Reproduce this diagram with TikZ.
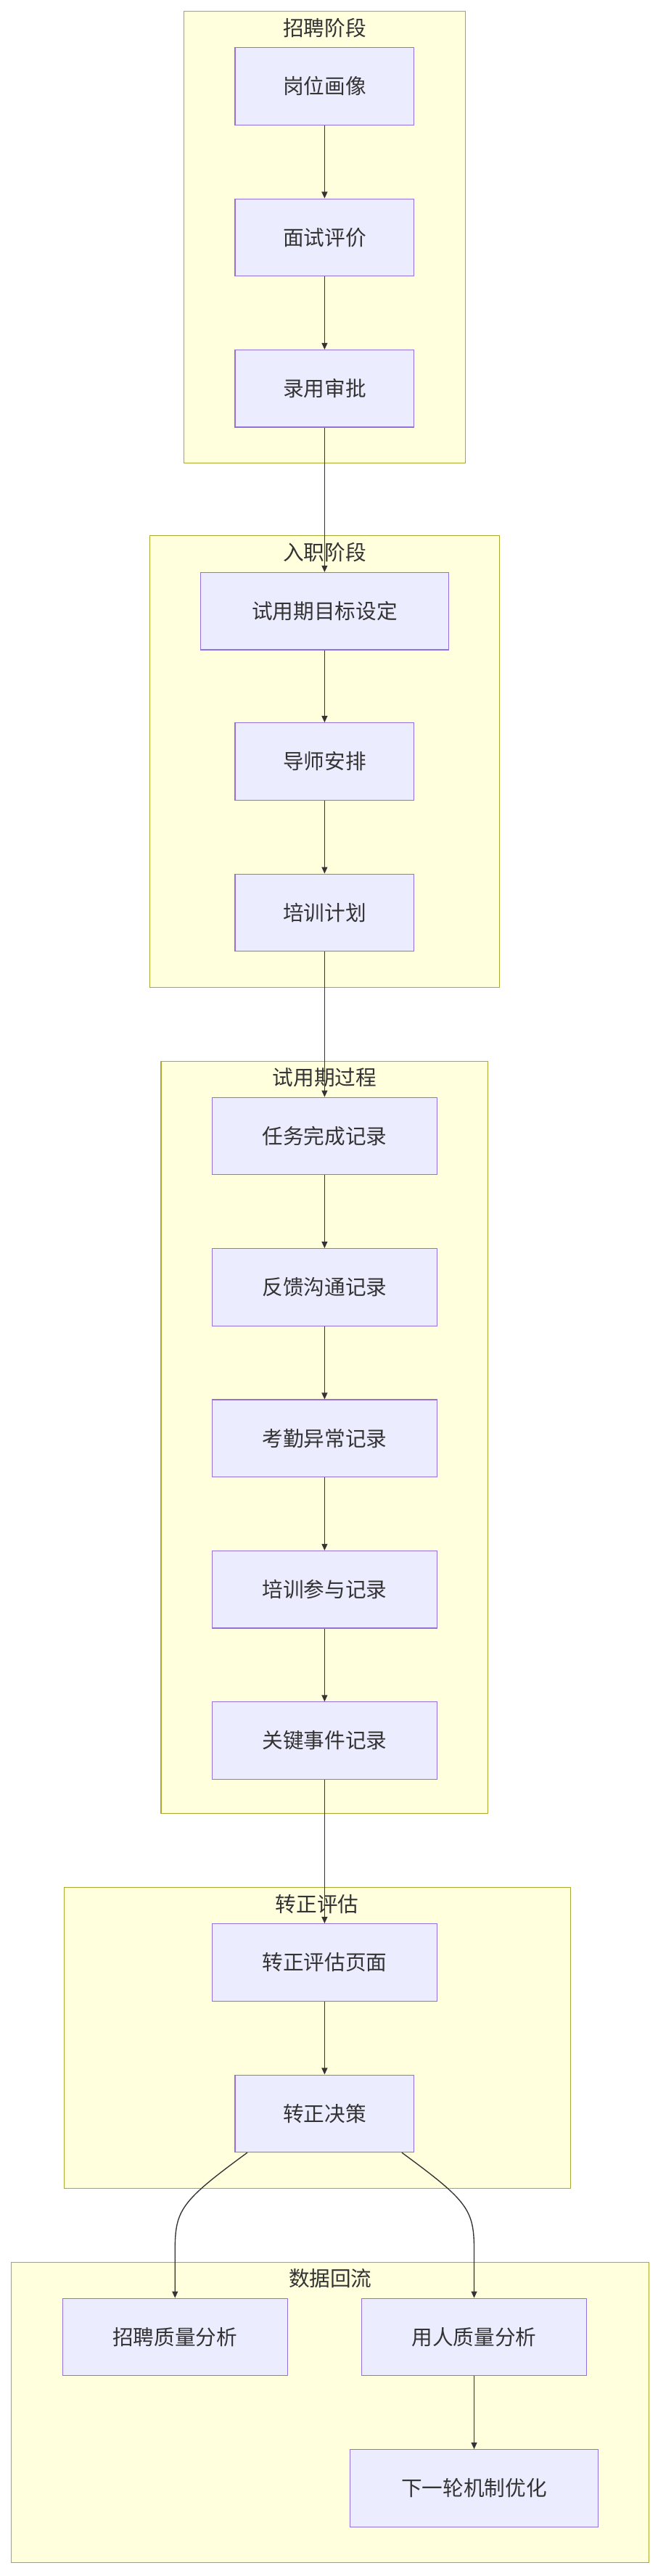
\documentclass[tikz,border=0pt]{standalone}
\usepackage{fontspec}
\setmainfont{Noto Sans CJK SC}
\usetikzlibrary{arrows.meta}
\definecolor{nodefill}{HTML}{ECECFF}
\definecolor{nodeline}{HTML}{9370DB}
\definecolor{grpfill}{HTML}{FFFFDE}
\definecolor{grpline}{HTML}{AAAA33}
\definecolor{edge}{HTML}{333333}
\tikzset{
  box/.style={draw=nodeline, fill=nodefill, line width=0.5mm, inner sep=0,
    minimum height=47mm, font=\fontsize{36}{40}\selectfont, text=edge},
  grp/.style={draw=grpline, fill=grpfill, line width=0.5mm},
  grptitle/.style={font=\fontsize{36}{40}\selectfont, text=edge},
  flow/.style={draw=edge, line width=0.6mm, -{Triangle[length=4mm,width=3.5mm]}},
}
\begin{document}
\begin{tikzpicture}[x=1mm,y=-1mm]
  \useasboundingbox (0,0) rectangle (400,1568);
  % groups
  \draw[grp] (112,7) rectangle (283,282);
  \node[grptitle] (g1) at (197.5,17) {招聘阶段};
  \draw[grp] (91,326) rectangle (304,601);
  \node[grptitle] (g2) at (197.5,336) {入职阶段};
  \draw[grp] (98,646) rectangle (297,1104);
  \node[grptitle] (g3) at (197.5,656) {试用期过程};
  \draw[grp] (39,1149) rectangle (347,1332);
  \node[grptitle] (g4) at (193,1159) {转正评估};
  \draw[grp] (7,1377) rectangle (395,1560);
  \node[grptitle] (g5) at (201,1387) {数据回流};
  % nodes
  \node[box, minimum width=109mm] (hp) at (197.5,52.5) {岗位画像};
  \node[box, minimum width=109mm] (ms) at (197.5,144.5) {面试评价};
  \node[box, minimum width=109mm] (ly) at (197.5,236.5) {录用审批};
  \node[box, minimum width=151mm] (mb) at (197.5,372) {试用期目标设定};
  \node[box, minimum width=109mm] (ds) at (197.5,463.5) {导师安排};
  \node[box, minimum width=109mm] (px) at (197.5,555.5) {培训计划};
  \node[box, minimum width=137mm] (rw) at (197.5,691.5) {任务完成记录};
  \node[box, minimum width=137mm] (fk) at (197.5,783.5) {反馈沟通记录};
  \node[box, minimum width=137mm] (kq) at (197.5,875.5) {考勤异常记录};
  \node[box, minimum width=137mm] (cy) at (197.5,967.5) {培训参与记录};
  \node[box, minimum width=137mm] (sj) at (197.5,1059.5) {关键事件记录};
  \node[box, minimum width=137mm] (pg) at (197.5,1194.5) {转正评估页面};
  \node[box, minimum width=109mm] (jc) at (197.5,1286.5) {转正决策};
  \node[box, minimum width=137mm] (zp) at (106.5,1422.5) {招聘质量分析};
  \node[box, minimum width=137mm] (yr) at (288.5,1422.5) {用人质量分析};
  \node[box, minimum width=151mm] (yh) at (288.5,1514.5) {下一轮机制优化};
  % edges
  \foreach \a/\b in {hp/ms,ms/ly,ly/mb,mb/ds,ds/px,px/rw,rw/fk,fk/kq,kq/cy,cy/sj,sj/pg,pg/jc,yr/yh}
    \draw[flow] (\a) -- (\b);
  \draw[flow] ([xshift=-47mm]jc.south) .. controls (110,1340) and (106.5,1345) .. (106.5,1370) -- (zp.north);
  \draw[flow] ([xshift=47mm]jc.south) .. controls (285,1340) and (288.5,1345) .. (288.5,1370) -- (yr.north);
\end{tikzpicture}
\end{document}
